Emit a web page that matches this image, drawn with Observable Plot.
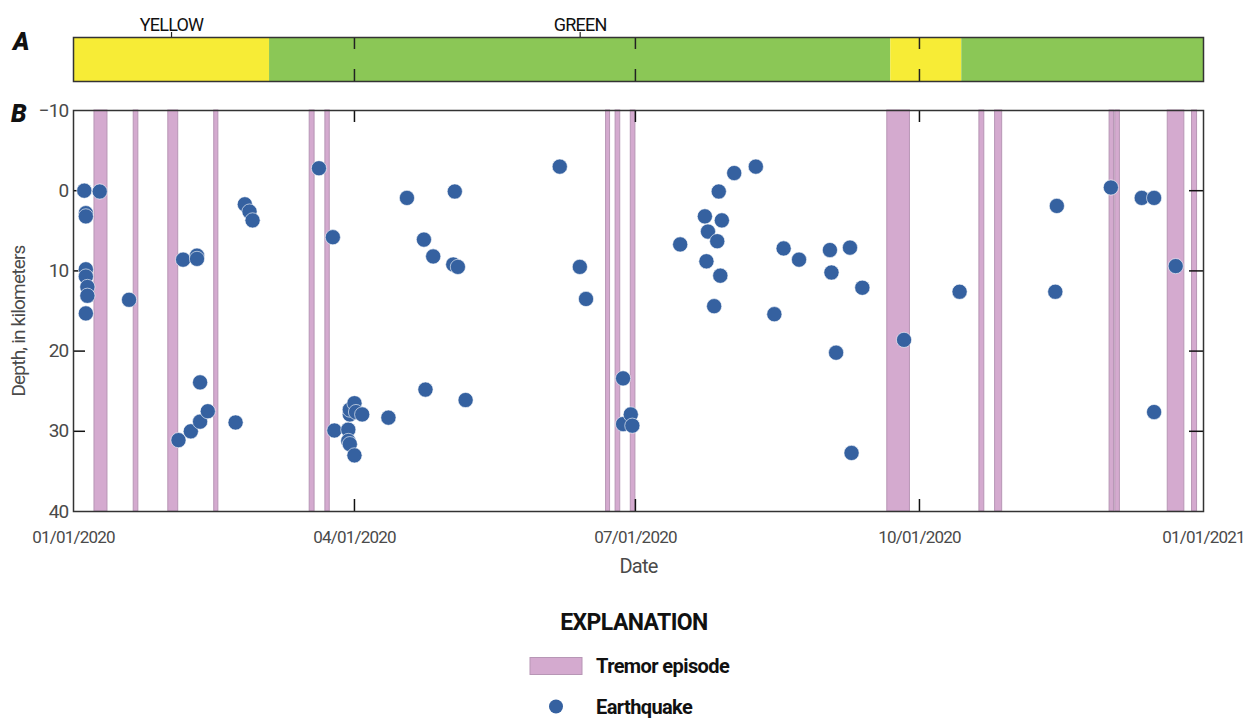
<!DOCTYPE html>
<html><head><meta charset="utf-8">
<script src="https://cdn.jsdelivr.net/npm/d3@7"></script>
<script src="https://cdn.jsdelivr.net/npm/@observablehq/plot@0.6"></script>
<style>
body{margin:0;background:#fff;font-family:Roboto,"Liberation Sans",sans-serif;}
#wrap{position:relative;width:1245px;height:719px;overflow:hidden;}
.panel{position:absolute;left:0;}
.panel text{letter-spacing:-0.8px;}
.plab{position:absolute;font-weight:900;font-style:italic;font-size:25px;color:#111;line-height:1;}
.leg{position:absolute;font-weight:bold;color:#111;line-height:1;white-space:nowrap;letter-spacing:-0.6px;}
</style></head>
<body><div id="wrap"></div>
<script>
// ---- data ----
const alertLevel = ["YELLOW","GREEN","YELLOW","GREEN"];
const alertStart = ["2020-01-01T00","2020-03-04T12","2020-09-21T17","2020-10-14T17"];
const alertEnd   = ["2020-03-04T12","2020-09-21T17","2020-10-14T17","2021-01-01T00"];

const tremorStart = ["2020-01-07T19","2020-01-20T12","2020-01-31T17","2020-02-15T14","2020-03-17T12","2020-03-22T14",
  "2020-06-21T12","2020-06-24T14","2020-06-29T12","2020-09-20T14","2020-10-20T10","2020-10-25T12",
  "2020-12-01T14","2020-12-03T10","2020-12-20T10","2020-12-28T07"];
const tremorEnd = ["2020-01-12T00","2020-01-22T00","2020-02-03T22","2020-02-16T22","2020-03-19T02","2020-03-24T00",
  "2020-06-22T19","2020-06-26T02","2020-07-01T00","2020-09-27T22","2020-10-22T00","2020-10-27T19",
  "2020-12-03T00","2020-12-04T22","2020-12-25T19","2020-12-29T22"];

const quakeDate = [
  "2020-01-04T12","2020-01-09T12","2020-01-05T00","2020-01-05T00","2020-01-05T00","2020-01-05T00","2020-01-05T12","2020-01-05T12","2020-01-05T00",
  "2020-01-19T00","2020-02-04T00","2020-02-05T12","2020-02-08T00","2020-02-10T00","2020-02-10T00","2020-02-11T00","2020-02-11T00","2020-02-13T12",
  "2020-02-22T12","2020-02-25T12","2020-02-27T00","2020-02-28T00","2020-03-20T12","2020-03-25T00","2020-03-25T12","2020-03-30T00","2020-03-30T00",
  "2020-03-30T12","2020-04-01T00","2020-03-30T12","2020-03-30T12","2020-04-01T00","2020-04-01T12","2020-04-03T12","2020-04-12T00","2020-04-18T00",
  "2020-04-23T12","2020-04-24T00","2020-04-26T12","2020-05-03T00","2020-05-03T12","2020-05-04T12","2020-05-07T00","2020-06-06T12","2020-06-13T00",
  "2020-06-15T00","2020-06-27T00","2020-06-27T00","2020-06-29T12","2020-06-30T00","2020-07-15T12","2020-07-23T12","2020-07-24T12","2020-07-24T00",
  "2020-07-26T12","2020-07-27T12","2020-07-28T00","2020-07-28T12","2020-07-29T00","2020-08-02T00","2020-08-09T00","2020-08-15T00","2020-08-18T00",
  "2020-08-23T00","2020-09-02T00","2020-09-02T12","2020-09-04T00","2020-09-08T12","2020-09-09T00","2020-09-12T12","2020-09-26T00","2020-10-14T00",
  "2020-11-14T00","2020-11-14T12","2020-12-02T00","2020-12-12T00","2020-12-16T00","2020-12-16T00","2020-12-23T00"];
const quakeDepth = [
  0.0, 0.1, 2.8, 3.2, 9.8, 10.7, 12.0, 13.1, 15.3,
  13.6, 31.1, 8.6, 30.0, 8.1, 8.5, 28.8, 23.9, 27.5,
  28.9, 1.7, 2.6, 3.7, -2.8, 5.8, 29.9, 29.8, 31.2,
  31.6, 33.0, 27.9, 27.3, 26.5, 27.6, 27.9, 28.3, 0.9,
  6.1, 24.8, 8.2, 9.2, 0.1, 9.5, 26.1, -3.0, 9.5,
  13.5, 23.4, 29.1, 27.9, 29.3, 6.7, 3.2, 5.1, 8.8,
  14.4, 6.3, 0.1, 10.6, 3.7, -2.2, -3.0, 15.4, 7.2,
  8.6, 7.4, 10.2, 20.2, 7.1, 32.7, 12.1, 18.6, 12.6,
  12.6, 1.9, -0.4, 0.9, 0.9, 27.6, 9.4];

const dateTicks = ["2020-01-01T00","2020-04-01T00","2020-07-01T00","2020-10-01T00","2021-01-01T00"];
const depthTicks = [-10, 0, 10, 20, 30, 40];

// ---- build ----
const alertColor = {YELLOW: "#f7ec36", GREEN: "#8bc756"};
const parse = d3.utcParse("%Y-%m-%dT%H");
const fmt = d3.utcFormat("%m/%d/%Y");
const alerts = alertLevel.map((level, i) => ({level, start: parse(alertStart[i]), end: parse(alertEnd[i])}));
const alertLabels = alerts.filter((d, i) => alerts.findIndex(e => e.level === d.level) === i)
  .map(d => ({level: d.level, mid: new Date((+d.start + +d.end) / 2)}));
const tremors = tremorStart.map((s, i) => ({start: parse(s), end: parse(tremorEnd[i])}));
const quakes = quakeDate.map((s, i) => ({date: parse(s), depth: quakeDepth[i]}));
const ticksD = dateTicks.map(parse);
const innerD = ticksD.slice(1, -1);
const innerY = depthTicks.slice(1, -1);
const xDomain = [ticksD[0], ticksD[ticksD.length - 1]];

const W = 1245, ML = 73, MR = 42;
const frameW = W - ML - MR;
const font = {fontFamily: 'Roboto,"Liberation Sans",sans-serif', background: "transparent", overflow: "visible"};

const hA = 90, mtA = 37, mbA = 9, fhA = hA - mtA - mbA;
const A = Plot.plot({
  width: W, height: hA, marginLeft: ML, marginRight: MR, marginTop: mtA, marginBottom: mbA,
  style: font,
  x: {type: "utc", domain: xDomain, axis: null},
  marks: [
    Plot.rect(alerts, {x1: "start", x2: "end", fill: d => alertColor[d.level]}),
    Plot.tickX(innerD, {x: d => d, stroke: "#222", strokeWidth: 1.5, insetBottom: fhA - 12}),
    Plot.tickX(innerD, {x: d => d, stroke: "#222", strokeWidth: 1.5, insetTop: fhA - 12}),
    Plot.tickX(alertLabels, {x: "mid", stroke: "#222", strokeWidth: 1.2, insetTop: -5, insetBottom: fhA}),
    Plot.text(alertLabels, {x: "mid", text: "level", frameAnchor: "top", dy: -19, fontSize: 18, fill: "#111"}),
    Plot.frame({stroke: "#333", strokeWidth: 1.5})
  ]
});

const hB = 500, mtB = 20, mbB = 79, fhB = hB - mtB - mbB;
const B = Plot.plot({
  width: W, height: hB, marginLeft: ML, marginRight: MR, marginTop: mtB, marginBottom: mbB,
  style: font,
  x: {type: "utc", domain: xDomain, axis: null},
  y: {domain: [depthTicks[0], depthTicks[depthTicks.length - 1]], reverse: true},
  marks: [
    Plot.rect(tremors, {x1: "start", x2: "end", fill: "#d4aacf", stroke: "#b796b5", strokeWidth: 1}),
    Plot.tickY(innerY, {y: d => d, stroke: "#111", strokeWidth: 1.5, insetRight: frameW - 12}),
    Plot.tickY(innerY, {y: d => d, stroke: "#111", strokeWidth: 1.5, insetLeft: frameW - 14}),
    Plot.tickX(innerD, {x: d => d, stroke: "#111", strokeWidth: 1.5, insetBottom: fhB - 12}),
    Plot.tickX(innerD, {x: d => d, stroke: "#111", strokeWidth: 1.5, insetTop: fhB - 12}),
    Plot.dot(quakes, {x: "date", y: "depth", r: 7.6, fill: "#3561a0", stroke: "#fff", strokeWidth: 0.6}),
    Plot.frame({stroke: "#333", strokeWidth: 1.5}),
    Plot.axisY(depthTicks, {tickSize: 0, tickPadding: 5, fontSize: 19, fill: "#4a4a4a", label: null}),
    Plot.text(ticksD, {x: d => d, text: d => fmt(d), frameAnchor: "bottom", dy: 31, fontSize: 17, fill: "#4a4a4a"}),
    Plot.text(["Date"], {text: d => d, frameAnchor: "bottom", dy: 61, fontSize: 20, fill: "#4a4a4a"}),
    Plot.text(["Depth, in kilometers"], {text: d => d, frameAnchor: "left", textAnchor: "middle", rotate: -90, dx: -55, dy: 10, fontSize: 19, fill: "#4a4a4a"})
  ]
});

const wrap = document.getElementById("wrap");
A.classList.add("panel"); A.style.top = "0px";
B.classList.add("panel"); B.style.top = hA + "px";
wrap.appendChild(A); wrap.appendChild(B);

function addDiv(cls, text, css) {
  const d = document.createElement("div");
  d.className = cls; d.textContent = text;
  Object.assign(d.style, css);
  wrap.appendChild(d);
  return d;
}
addDiv("plab", "A", {left: "13px", top: "29px"});
addDiv("plab", "B", {left: "11px", top: "101px"});
addDiv("leg", "EXPLANATION", {left: "0px", width: "1268px", textAlign: "center", top: "611px", fontSize: "23px"});
addDiv("leg", "Tremor episode", {left: "596px", top: "656px", fontSize: "20px"});
addDiv("leg", "Earthquake", {left: "596px", top: "697px", fontSize: "20px"});

const sw = d3.select(wrap).append("svg").attr("width", 1245).attr("height", 719)
  .style("position", "absolute").style("left", 0).style("top", 0).style("pointer-events", "none");
sw.append("rect").attr("x", 530).attr("y", 657.5).attr("width", 52).attr("height", 17)
  .attr("fill", "#d4aacf").attr("stroke", "#b796b5");
sw.append("circle").attr("cx", 556).attr("cy", 706.5).attr("r", 7).attr("fill", "#3561a0");
</script>
</body></html>
